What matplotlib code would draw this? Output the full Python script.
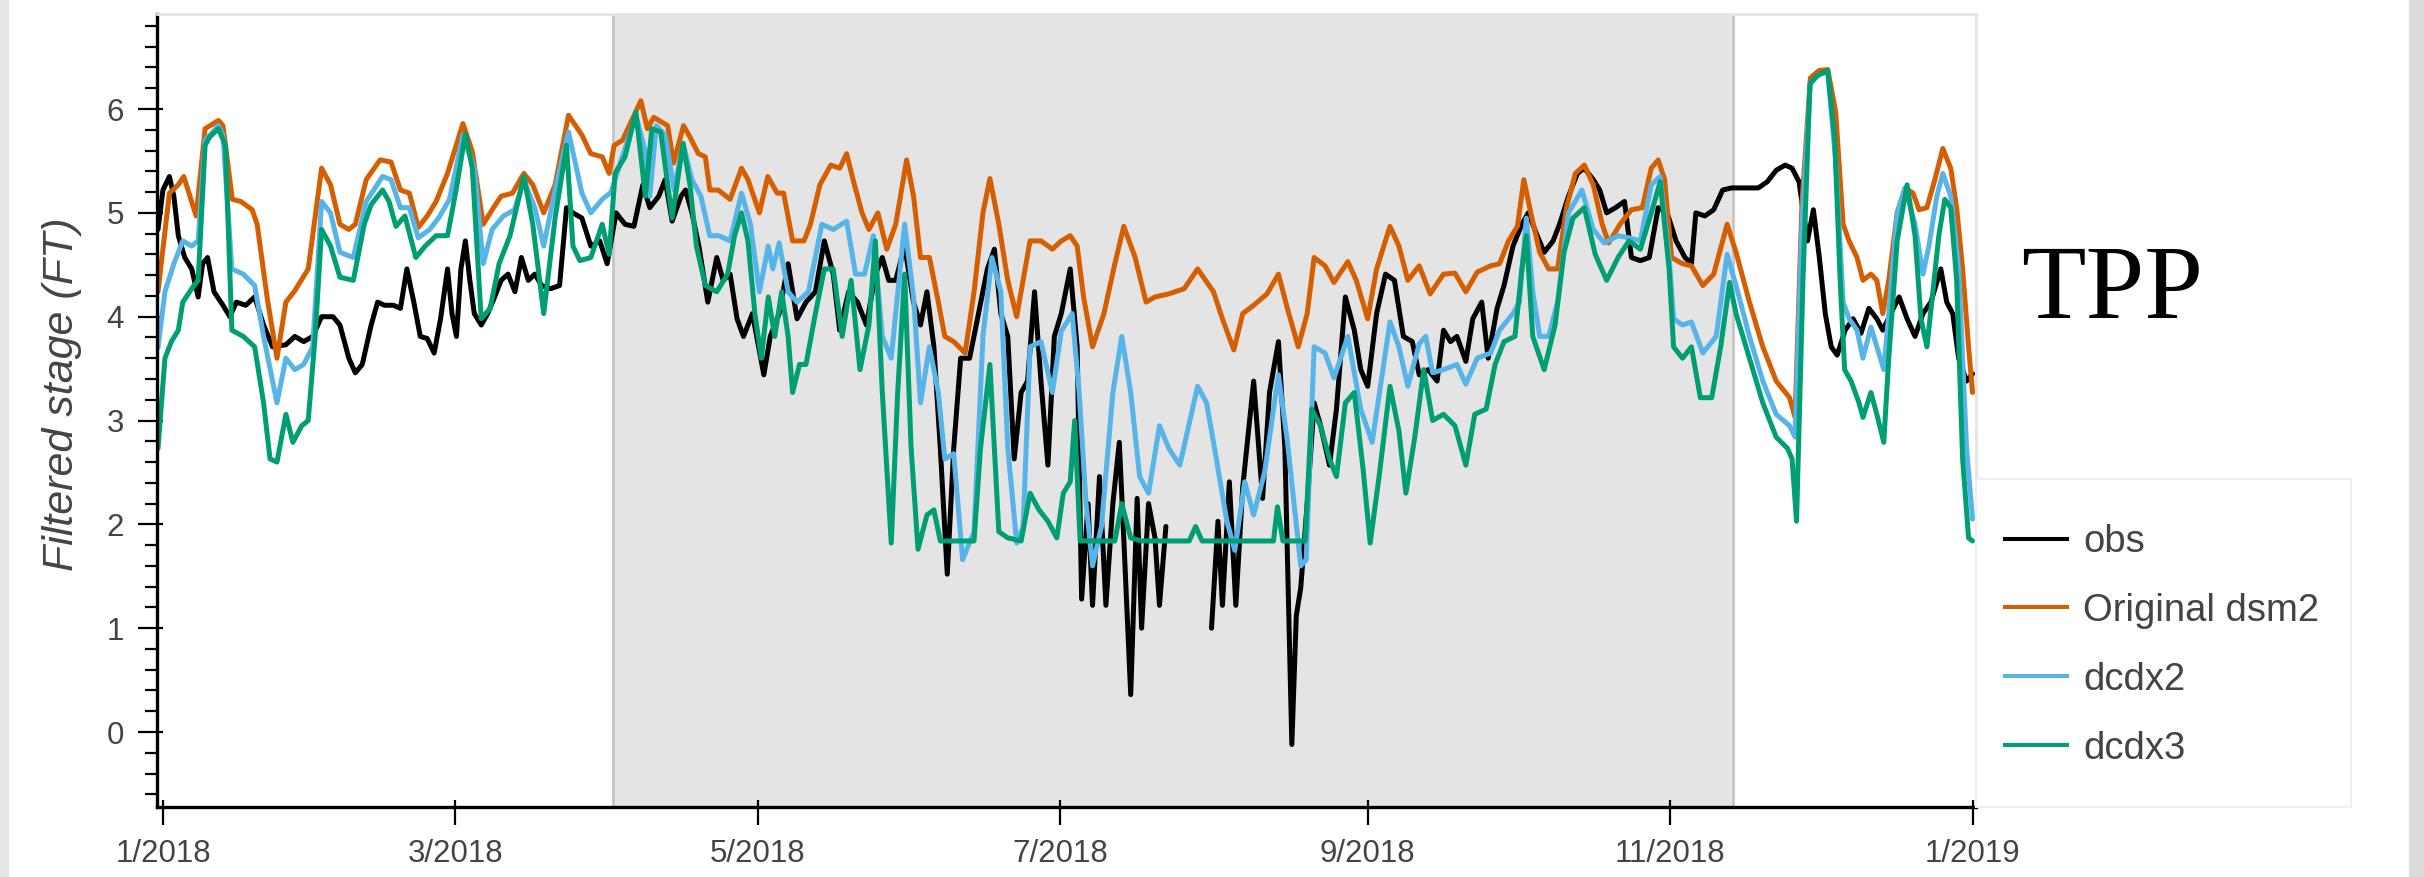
import numpy as np
import pandas as pd
import matplotlib
matplotlib.use("Agg")
import matplotlib.pyplot as plt
import matplotlib.dates as mdates
from matplotlib.patches import Rectangle
from matplotlib.lines import Line2D
from matplotlib.ticker import MultipleLocator, FuncFormatter

plt.rcParams["font.family"] = ["Liberation Sans", "DejaVu Sans"]

START = pd.Timestamp("2018-01-01")

SERIES_LABELS = ["obs", "Original dsm2", "dcdx2", "dcdx3"]
SERIES_COLORS = ["#000000", "#D55E00", "#56B4E9", "#009E73"]

# days since 2018-01-01 and filtered stage (ft); NaN marks missing observations
obs_day = [-1, 0, 1.3, 2.2, 3.1, 4.4, 5.8, 7.1, 8, 9, 10.3, 12.1, 13.5, 14.8, 16.7, 18.5, 20.3, 22.1,
           24.8, 26.6, 28.4, 30.2, 32, 34.3, 35.7, 37.5, 38.8, 40.2, 42, 43.3, 44.7, 46.5, 47.9, 49.2,
           50.6, 51.9, 53.3, 54.7, 56, 57.4, 58.3, 59.2, 60.1, 61, 61.9, 62.8, 64.2, 65.5, 66.9, 68.2,
           69.6, 71, 72.3, 73.7, 75, 76.4, 78.2, 80, 81.4, 82.7, 84.5, 86.3, 88.1, 89.6, 91.4, 93.2,
           95, 96.8, 98.2, 100, 101.3, 102.7, 104.5, 105.4, 106.7, 108.1, 109.9, 111.7, 113, 114.4,
           115.8, 117.1, 118.9, 121.2, 122.5, 124.3, 126.1, 127.9, 129.7, 131.6, 133.4, 135.2, 136.5,
           138.3, 140.1, 141.9, 143.7, 145.1, 146.4, 147.8, 149.6, 151.4, 152.8, 154.1, 155.5, 156.8,
           158.2, 159.5, 160.9, 162.7, 164.5, 166.3, 167.7, 169, 170.4, 171.7, 173.1, 174.4, 175.8,
           177.1, 178.5, 179.8, 181.2, 183, 184.4, 185.3, 186.6, 187.5, 188.9, 190.2, 191.6, 192.9,
           193.8, 195.2, 196.5, 197.4, 198.8, 200.1, 201, 202.3, 207, 211.5, 212.8, 213.7, 215.1,
           216.4, 217.8, 220, 221.8, 223.2, 225, 226.3, 227.7, 228.6, 229.5, 230.8, 232.2, 233.5,
           235.3, 236.7, 238.5, 240.3, 241.6, 243, 244.8, 246.6, 248.4, 250.2, 252, 253.4, 255.2, 257,
           258.3, 259.7, 261, 262.8, 264.2, 266, 267.3, 269.1, 270.5, 272.3, 274.1, 275.4, 277.2,
           278.6, 280.4, 281.7, 283.5, 285.3, 286.7, 288.5, 289.8, 291.2, 293, 294.8, 296.2, 298,
           299.8, 301.6, 303.4, 305.2, 307, 308.3, 309.2, 311, 312.8, 314.6, 316.4, 319.1, 321.8,
           323.6, 325.4, 327.2, 328.6, 330, 331.7, 332.9, 334.1, 335.3, 336.5, 337.7, 339.3, 340.9,
           342.5, 344.1, 345.7, 346.9, 348.5, 350.2, 351.8, 353.4, 355, 356.6, 358.6, 359.8, 361,
           362.2, 363.8, 365]
obs_stage = [4.84, 5.22, 5.35, 5.16, 4.78, 4.57, 4.46, 4.19, 4.51, 4.57, 4.24, 4.11, 4.0, 4.14, 4.11,
             4.19, 3.92, 3.71, 3.73, 3.81, 3.76, 3.81, 4.0, 4.0, 3.92, 3.6, 3.46, 3.54, 3.92, 4.14,
             4.11, 4.11, 4.08, 4.46, 4.14, 3.81, 3.79, 3.65, 3.98, 4.46, 4.03, 3.81, 4.46, 4.73, 4.35,
             4.03, 3.92, 4.03, 4.19, 4.35, 4.41, 4.24, 4.57, 4.35, 4.41, 4.3, 4.27, 4.3, 5.05, 5.0,
             4.95, 4.68, 4.73, 4.51, 5.0, 4.89, 4.87, 5.27, 5.05, 5.16, 5.32, 4.92, 5.16, 5.22, 5.0,
             4.68, 4.14, 4.57, 4.35, 4.41, 3.98, 3.81, 4.03, 3.44, 3.81, 4.03, 4.51, 3.98, 4.14, 4.24,
             4.73, 4.41, 3.87, 4.24, 4.14, 3.92, 4.41, 4.57, 4.35, 4.35, 4.68, 4.14, 3.92, 4.24, 3.71,
             2.73, 1.52, 2.73, 3.6, 3.6, 4.03, 4.46, 4.65, 4.03, 3.81, 2.63, 3.27, 3.38, 4.24, 3.38,
             2.57, 3.81, 4.03, 4.46, 3.71, 1.28, 2.2, 1.22, 2.46, 1.22, 2.2, 2.79, 1.87, 0.36, 2.25,
             1.0, 2.2, 1.87, 1.22, 1.98, np.nan, 1.0, 2.03, 1.22, 2.41, 1.22, 2.36, 3.38, 2.25, 3.27,
             3.76, 2.73, -0.12, 1.12, 1.39, 2.2, 3.17, 2.95, 2.57, 3.11, 4.19, 3.87, 3.49, 3.33, 4.03,
             4.41, 4.35, 3.81, 3.76, 3.44, 3.49, 3.38, 3.87, 3.76, 3.81, 3.57, 3.98, 4.14, 3.6, 4.08,
             4.3, 4.68, 4.89, 5.0, 4.78, 4.62, 4.73, 4.89, 5.16, 5.38, 5.43, 5.32, 5.22, 5.0, 5.05,
             5.11, 4.57, 4.54, 4.57, 5.05, 5.0, 4.73, 4.57, 4.51, 5.0, 4.97, 5.03, 5.22, 5.24, 5.24,
             5.24, 5.3, 5.41, 5.46, 5.43, 5.3, 4.73, 5.03, 4.57, 4.03, 3.71, 3.63, 3.87, 3.98, 3.84,
             4.08, 3.98, 3.87, 4.03, 4.19, 3.98, 3.81, 4.03, 4.14, 4.46, 4.14, 4.03, 3.6, 3.38, 3.45]

dsm2_day = [-1, 1.3, 3.1, 4.2, 6.7, 8.5, 11.2, 12.1, 14, 15.7, 18, 19, 21, 23, 24.8, 26.6, 29.3, 30.2,
            32, 33.8, 35.7, 37.5, 38.8, 41, 43.8, 46, 47.9, 49.7, 51.5, 53.3, 55.1, 57.4, 60.5, 62.4,
            64.6, 66.4, 68.2, 70.5, 72.8, 74.6, 76.8, 79.1, 81.8, 84.5, 86.3, 88.6, 90, 91, 92.7, 96.4,
            97.7, 99, 101.8, 103, 105, 106.3, 108, 109.4, 110.3, 112, 114.4, 116.7, 118, 120.3, 122,
            123.9, 125.2, 127, 129.3, 130.6, 132.5, 134.7, 136.5, 137.9, 139.2, 141, 142.4, 144.2, 146,
            147.8, 150, 151.4, 152.8, 154.6, 156.4, 157.7, 159.5, 161.8, 163.6, 165.4, 166.8, 168.6,
            170.4, 172.2, 173.5, 174.9, 177.1, 179.4, 181.2, 183, 184.4, 185.7, 187.5, 189.8, 192,
            193.8, 196.1, 198.3, 200.1, 202.9, 206, 208.7, 211.9, 213.7, 216, 217.8, 220, 222.7, 225,
            226.8, 229, 230.8, 232.2, 234.4, 236.2, 239, 240.7, 243, 244.8, 247.5, 249.3, 251.1, 253.4,
            255.6, 258.3, 260.6, 262.8, 265.1, 267.8, 269.6, 271.4, 273.2, 274.5, 275.9, 277.7, 279.5,
            281.3, 283.1, 284.9, 286.7, 288.5, 290.3, 291.6, 293.9, 296.2, 298.4, 300.2, 301.6, 302.9,
            304.3, 306.5, 308.3, 310.6, 312.8, 315.5, 317.3, 320, 322.7, 325.4, 328.1, 329.2, 330.6,
            332.3, 334, 335.8, 337.4, 338.9, 340.1, 341.7, 342.9, 344.5, 345.7, 346.9, 348.1, 349.8,
            351.4, 353, 354.2, 355.8, 357.4, 359, 360.6, 361.8, 363, 364.2, 365]
dsm2_stage = [4.24, 5.19, 5.27, 5.35, 4.97, 5.81, 5.89, 5.84, 5.13, 5.11, 5.03, 4.89, 4.19, 3.6, 4.14,
              4.25, 4.46, 4.78, 5.43, 5.27, 4.89, 4.84, 4.89, 5.32, 5.51, 5.49, 5.22, 5.19, 4.86, 4.97,
              5.11, 5.38, 5.86, 5.59, 4.89, 5.03, 5.16, 5.19, 5.38, 5.27, 5.0, 5.27, 5.94, 5.75, 5.57,
              5.54, 5.38, 5.65, 5.7, 6.08, 5.81, 5.92, 5.84, 5.48, 5.84, 5.73, 5.57, 5.54, 5.22, 5.22,
              5.13, 5.43, 5.32, 5.0, 5.35, 5.19, 5.19, 4.73, 4.73, 4.89, 5.27, 5.46, 5.43, 5.57, 5.32,
              5.0, 4.84, 5.0, 4.65, 4.89, 5.51, 5.16, 4.57, 4.57, 4.14, 3.81, 3.76, 3.65, 4.24, 5.0,
              5.33, 4.89, 4.35, 4.0, 4.35, 4.73, 4.73, 4.65, 4.73, 4.78, 4.68, 4.19, 3.71, 4.03, 4.51,
              4.87, 4.57, 4.14, 4.19, 4.22, 4.27, 4.46, 4.24, 3.98, 3.68, 4.03, 4.11, 4.22, 4.41, 4.08,
              3.71, 4.03, 4.57, 4.49, 4.33, 4.53, 4.35, 3.98, 4.46, 4.87, 4.68, 4.35, 4.49, 4.22, 4.41,
              4.42, 4.24, 4.43, 4.49, 4.51, 4.73, 4.87, 5.32, 5.0, 4.62, 4.46, 4.46, 5.05, 5.38, 5.46,
              5.27, 4.89, 4.71, 4.89, 5.03, 5.05, 5.43, 5.51, 5.32, 4.57, 4.51, 4.49, 4.3, 4.41, 4.89,
              4.62, 4.14, 3.71, 3.38, 3.22, 3.03, 5.1, 6.3, 6.37, 6.38, 5.97, 4.89, 4.73, 4.57, 4.35,
              4.41, 4.35, 4.03, 4.35, 5.0, 5.24, 5.19, 5.03, 5.05, 5.32, 5.62, 5.43, 5.05, 4.46, 3.71,
              3.27]

dcdx2_day = [-1, 0.4, 2.2, 4, 5.8, 7.1, 8.5, 11.2, 12.1, 13.9, 16.2, 18.5, 20.3, 23, 24.8, 26.6, 28.4,
             30.2, 32, 33.8, 35.7, 38.4, 41, 44.3, 46, 47.9, 49.7, 51.5, 53.8, 55.6, 57.8, 60.5, 62.8,
             64.6, 66.4, 68.7, 70.9, 72.8, 75, 76.8, 79.1, 81.8, 84.5, 86.3, 88.6, 90.4, 92.3, 95.4,
             97.3, 98.2, 99.5, 101.3, 103.1, 104.9, 106.7, 108.5, 110.3, 112.1, 114.4, 116.7, 118.5,
             120.3, 122.1, 123, 124.3, 126.1, 127.9, 130.2, 132.9, 135.2, 137.9, 139.7, 141.5, 143.3,
             145.1, 146.9, 149.6, 151.4, 152.8, 154.6, 156.4, 157.7, 159.5, 161.3, 163.6, 165.4, 167.2,
             169, 170.4, 172.2, 173.5, 174.9, 177.1, 179.4, 181.2, 183.4, 184.8, 186.2, 187.5, 189.3,
             191.6, 193.4, 195.2, 197, 198.8, 201, 202.9, 205.1, 206.9, 208.7, 210.5, 212.3, 214.6,
             216.2, 218.2, 220, 222.2, 225, 226.8, 228.6, 229.5, 230.6, 232.2, 234.4, 236.2, 239,
             241.6, 243.9, 247.5, 249.3, 251.1, 253.4, 254.7, 256.1, 258.3, 261, 262.8, 265.1, 267.8,
             269.6, 272.3, 273.6, 275, 276.3, 277.7, 279.5, 281.3, 283.5, 286.2, 288.5, 290.7, 293.5,
             295.7, 298, 300.2, 302, 303.8, 304.7, 306.5, 308.3, 310.6, 313.3, 315.5, 317.3, 320,
             322.7, 325.4, 328.1, 329.2, 330.6, 332.3, 334, 335.8, 337.4, 338.9, 340.1, 341.7, 342.9,
             344.5, 345.7, 347.1, 348.1, 349.8, 351.4, 353.4, 355, 356.2, 357.8, 359, 360.6, 362.2,
             363.8, 365]
dcdx2_stage = [3.7, 4.24, 4.51, 4.73, 4.68, 4.73, 5.7, 5.84, 5.75, 4.46, 4.41, 4.3, 3.81, 3.17, 3.6,
               3.49, 3.54, 3.71, 5.11, 5.0, 4.62, 4.57, 5.11, 5.35, 5.32, 5.05, 5.05, 4.76, 4.84, 4.95,
               5.13, 5.75, 5.43, 4.51, 4.84, 4.97, 5.03, 5.32, 5.05, 4.68, 5.22, 5.78, 5.19, 5.0, 5.13,
               5.2, 5.49, 5.94, 5.59, 5.16, 5.84, 5.75, 5.22, 5.67, 5.32, 5.16, 4.78, 4.78, 4.73, 5.19,
               4.89, 4.24, 4.68, 4.46, 4.71, 4.24, 4.14, 4.24, 4.89, 4.84, 4.92, 4.41, 4.41, 4.78, 3.81,
               3.6, 4.89, 4.19, 3.17, 3.71, 3.27, 2.63, 2.68, 1.66, 1.93, 3.81, 4.57, 4.24, 2.74, 1.82,
               1.98, 3.71, 3.76, 3.27, 3.86, 4.03, 3.27, 2.2, 1.6, 1.98, 3.27, 3.81, 3.27, 2.46, 2.3,
               2.95, 2.73, 2.57, 2.95, 3.33, 3.17, 2.68, 2.03, 1.75, 2.41, 2.09, 2.5, 3.44, 2.8, 2.0,
               1.6, 1.66, 3.71, 3.65, 3.41, 3.81, 3.11, 2.79, 3.95, 3.71, 3.33, 3.74, 3.81, 3.46, 3.49,
               3.54, 3.35, 3.6, 3.65, 3.87, 4.03, 4.14, 4.95, 4.24, 3.81, 3.81, 4.14, 5.0, 5.22, 4.84,
               4.71, 4.78, 4.76, 4.73, 5.27, 5.35, 4.57, 3.98, 3.92, 3.95, 3.65, 3.81, 4.6, 4.3, 3.81,
               3.38, 3.06, 2.95, 2.84, 4.9, 6.25, 6.33, 6.36, 5.5, 4.14, 3.98, 3.87, 3.6, 3.9, 3.71,
               3.49, 4.03, 5.0, 5.24, 4.89, 4.41, 4.68, 5.16, 5.38, 5.16, 4.46, 2.73, 2.05]

dcdx3_day = [-1, 0.4, 1.7, 3.1, 4, 5.8, 7.1, 8.5, 9.4, 11.2, 12.6, 13.9, 16.2, 18.5, 20.3, 21.6, 23,
             24.8, 26.2, 28, 29.3, 30.7, 32, 33.8, 35.7, 38.4, 40.6, 42, 44.3, 45.6, 47, 48.8, 51, 52.9,
             55.1, 57.4, 59.2, 61, 62.4, 64.2, 66, 67.8, 70, 72.8, 74.6, 76.8, 79.1, 81.4, 82.7, 84.1,
             86.3, 88.6, 90, 91.2, 93.2, 95.4, 97.3, 98.6, 100.4, 102.7, 104.9, 106.3, 107.6, 109.4,
             111.7, 113.9, 115.3, 116.7, 118, 119.4, 120.7, 122.1, 123.4, 124.8, 126.1, 127, 128.4,
             129.7, 131.6, 133.4, 135.2, 137, 138.8, 140.6, 142.4, 143.7, 145.1, 146.9, 148.2, 149.6,
             150.9, 152.3, 154.1, 155.5, 156.8, 160.4, 163.6, 164.9, 166.8, 168.6, 170.4, 173.1, 174.9,
             176.7, 178.5, 180.3, 181.6, 183, 183.9, 185, 192, 193.4, 195.2, 197.4, 207, 208.3, 209.6,
             224, 224.8, 225.9, 230.4, 231.7, 233.5, 235.3, 236.7, 238.5, 240.3, 242.1, 243.5, 245.3,
             247.5, 249.3, 250.7, 252.5, 254.3, 256.1, 258.3, 260.6, 262.8, 264.6, 266.9, 268.7, 270.5,
             272.7, 274.1, 275, 276.3, 278.6, 280.8, 282.6, 284.4, 286.7, 288.9, 291.2, 293.5, 295.7,
             298, 300.2, 302, 303.8, 304.7, 306.5, 308.3, 310.1, 312.4, 314.2, 316, 317.3, 320, 322.7,
             325.4, 327.7, 328.6, 329.5, 330.8, 332.2, 333.6, 335.8, 337.2, 338.3, 339.2, 340.5, 342.1,
             342.9, 344.5, 345.7, 347.1, 348.1, 349.8, 351.8, 353.4, 354.6, 355.8, 357, 358.2, 359.4,
             360.6, 361.8, 363, 364.2, 365]
dcdx3_stage = [2.73, 3.6, 3.76, 3.87, 4.14, 4.27, 4.35, 5.65, 5.73, 5.81, 5.65, 3.87, 3.81, 3.71, 3.17,
               2.63, 2.6, 3.06, 2.79, 2.95, 3.0, 3.81, 4.84, 4.68, 4.38, 4.35, 4.89, 5.08, 5.22, 5.11,
               4.87, 4.97, 4.57, 4.68, 4.78, 4.78, 5.24, 5.76, 5.43, 3.98, 4.08, 4.51, 4.78, 5.35, 4.89,
               4.03, 4.95, 5.65, 4.68, 4.54, 4.57, 4.89, 4.6, 5.38, 5.54, 5.97, 5.16, 5.81, 5.78, 4.95,
               5.67, 5.27, 4.68, 4.3, 4.24, 4.41, 4.78, 5.0, 4.73, 4.03, 3.6, 4.19, 3.81, 4.24, 3.81,
               3.27, 3.54, 3.54, 4.03, 4.46, 4.46, 3.81, 4.35, 3.49, 3.92, 4.73, 3.27, 1.82, 3.27, 4.41,
               2.74, 1.76, 2.09, 2.14, 1.84, 1.84, 1.84, 2.73, 3.54, 1.93, 1.87, 1.84, 2.3, 2.14, 2.03,
               1.87, 2.3, 2.41, 3.0, 1.84, 1.84, 2.2, 1.87, 1.84, 1.84, 1.98, 1.84, 1.84, 2.17, 1.84,
               1.84, 3.11, 2.95, 2.63, 2.46, 3.17, 3.27, 2.52, 1.82, 2.46, 3.33, 2.9, 2.3, 2.84, 3.49,
               3.0, 3.06, 2.95, 2.57, 3.06, 3.11, 3.54, 3.76, 3.81, 4.46, 4.78, 3.81, 3.49, 3.92, 4.62,
               4.95, 5.05, 4.6, 4.35, 4.57, 4.73, 4.65, 5.0, 5.3, 4.46, 3.71, 3.6, 3.71, 3.22, 3.22,
               3.71, 4.33, 4.03, 3.6, 3.17, 2.84, 2.73, 2.63, 2.03, 4.35, 6.24, 6.32, 6.37, 5.7, 4.35,
               3.49, 3.38, 3.17, 3.03, 3.27, 3.06, 2.79, 3.6, 4.73, 5.27, 4.78, 3.98, 3.71, 4.24, 4.78,
               5.13, 5.05, 4.35, 2.63, 1.87, 1.84]

# calibration window shown as a shaded band (day offsets)
WINDOW_START_DAY = 90.8
WINDOW_END_DAY = 316.7

W, H = 2424, 877
TEXT_GRAY = "#444444"


def to_dates(days):
    return START + pd.to_timedelta(np.asarray(days, dtype=float), unit="D")


fig = plt.figure(figsize=(W / 100, H / 100), dpi=100)
fig.patch.set_facecolor("white")

ax_left, ax_right, ax_top, ax_bottom = 157, 1976, 13.5, 807
ax = fig.add_axes([ax_left / W, 1 - ax_bottom / H, (ax_right - ax_left) / W, (ax_bottom - ax_top) / H])
ax.set_facecolor("white")

# shaded window with thin borders
w0, w1 = to_dates([WINDOW_START_DAY, WINDOW_END_DAY])
ax.axvspan(w0, w1, facecolor="#e4e4e4", edgecolor="none", zorder=0)
for edge in (w0, w1):
    ax.axvline(edge, color="#c8c8c8", lw=2.2, zorder=0.5)

series = [
    (obs_day, obs_stage),
    (dsm2_day, dsm2_stage),
    (dcdx2_day, dcdx2_stage),
    (dcdx3_day, dcdx3_stage),
]
for (days, vals), color, label in zip(series, SERIES_COLORS, SERIES_LABELS):
    ax.plot(to_dates(days), vals, color=color, lw=3.6, label=label,
            solid_joinstyle="round", solid_capstyle="round", zorder=2)

ax.set_xlim(START - pd.Timedelta(days=1.2), START + pd.Timedelta(days=365.7))
ax.set_ylim(-0.722, 6.92)

# spines
for side in ("left", "bottom"):
    ax.spines[side].set_color("black")
    ax.spines[side].set_linewidth(2.4)
for side in ("top", "right"):
    ax.spines[side].set_color("#e4e4e4")
    ax.spines[side].set_linewidth(2.0)

# y ticks
ax.yaxis.set_major_locator(MultipleLocator(1))
ax.yaxis.set_minor_locator(MultipleLocator(0.2))
ax.tick_params(axis="y", which="major", direction="out", length=13.7, width=1.6,
               color="black", labelsize=22.5, labelcolor=TEXT_GRAY, pad=10)
ax.tick_params(axis="y", which="minor", direction="out", length=8.6, width=1.6, color="black")

# x ticks
ax.xaxis.set_major_locator(mdates.MonthLocator(bymonth=[1, 3, 5, 7, 9, 11]))
ax.xaxis.set_major_formatter(FuncFormatter(
    lambda v, pos: f"{mdates.num2date(v).month}/{mdates.num2date(v).year}"))
ax.tick_params(axis="x", which="major", direction="out", length=13, width=1.6,
               color="black", labelsize=22.5, labelcolor=TEXT_GRAY, pad=10)
ax.tick_params(axis="x", which="minor", length=0)

# short inward stubs on major ticks
sec_y = ax.secondary_yaxis("left")
sec_y.yaxis.set_major_locator(MultipleLocator(1))
sec_y.tick_params(axis="y", direction="in", length=4.6, width=1.6, color="black", labelleft=False)
sec_y.spines["left"].set_visible(False)

sec_x = ax.secondary_xaxis("bottom")
sec_x.xaxis.set_major_locator(mdates.MonthLocator(bymonth=[1, 3, 5, 7, 9, 11]))
sec_x.tick_params(axis="x", direction="in", length=5.0, width=1.6, color="black", labelbottom=False)
sec_x.spines["bottom"].set_visible(False)

# axis label
fig.text(62 / W, 1 - 394 / H, "Filtered stage (FT)", rotation=90, ha="center", va="center",
         fontsize=31, style="italic", color=TEXT_GRAY)

# station name
fig.text(2021 / W, 1 - 318 / H, "TPP", ha="left", va="baseline", fontsize=76,
         family="Liberation Serif", color="black")

# legend panel
lx0, lx1, ly0, ly1 = 1976, 2351, 479, 807
fig.patches.append(Rectangle((lx0 / W, 1 - ly1 / H), (lx1 - lx0) / W, (ly1 - ly0) / H,
                             transform=fig.transFigure, facecolor="white",
                             edgecolor="#efefef", lw=1.5, zorder=1))
handles = [Line2D([], [], color=c, lw=2.9) for c in SERIES_COLORS]
leg = fig.legend(handles, SERIES_LABELS, loc="upper left", bbox_to_anchor=(2005 / W, 1 - 524 / H),
                 frameon=False, borderpad=0, borderaxespad=0, handlelength=1.62,
                 handletextpad=0.42, labelspacing=0.86, fontsize=27.5, labelcolor=TEXT_GRAY)
leg.set_zorder(3)

# page margins
fig.patches.append(Rectangle((0, 0), 9 / W, 1, transform=fig.transFigure,
                             facecolor="#e5e5e5", edgecolor="none", zorder=1))
fig.patches.append(Rectangle((2409 / W, 0), 15 / W, 1, transform=fig.transFigure,
                             facecolor="#dcdcdc", edgecolor="none", zorder=1))

fig.savefig("out.png", dpi=100, facecolor="white")
